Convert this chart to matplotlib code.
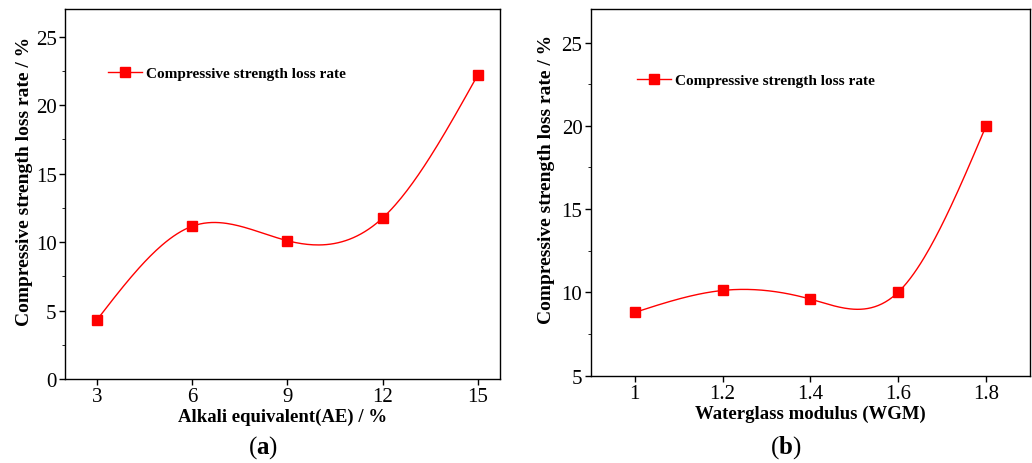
import numpy as np
import matplotlib
matplotlib.use("Agg")
import matplotlib.pyplot as plt
from matplotlib.ticker import MultipleLocator

ae = [3, 6, 9, 12, 15]
ae_loss = [4.3, 11.15, 10.1, 11.75, 22.2]
wgm = [1.0, 1.2, 1.4, 1.6, 1.8]
wgm_loss = [8.8, 10.12, 9.6, 10.02, 20.0]
label = "Compressive strength loss rate"

plt.rcParams["font.family"] = ["Liberation Serif", "DejaVu Serif"]
plt.rcParams["mathtext.fontset"] = "custom"
plt.rcParams["mathtext.bf"] = "Liberation Serif:bold"
plt.rcParams["mathtext.rm"] = "Liberation Serif"


def spline(x, y, n=200):
    # natural cubic spline through the measured points, for the smooth line
    x = np.asarray(x, float)
    y = np.asarray(y, float)
    k = len(x)
    h = np.diff(x)
    A = np.zeros((k, k))
    r = np.zeros(k)
    A[0, 0] = A[-1, -1] = 1
    for i in range(1, k - 1):
        A[i, i - 1] = h[i - 1]
        A[i, i] = 2 * (h[i - 1] + h[i])
        A[i, i + 1] = h[i]
        r[i] = 6 * ((y[i + 1] - y[i]) / h[i] - (y[i] - y[i - 1]) / h[i - 1])
    m = np.linalg.solve(A, r)
    xs = np.linspace(x[0], x[-1], n)
    idx = np.clip(np.searchsorted(x, xs) - 1, 0, k - 2)
    x0, x1 = x[idx], x[idx + 1]
    hh = x1 - x0
    t0, t1 = x1 - xs, xs - x0
    ys = (m[idx] * t0 ** 3 + m[idx + 1] * t1 ** 3) / (6 * hh) \
        + (y[idx] / hh - m[idx] * hh / 6) * t0 \
        + (y[idx + 1] / hh - m[idx + 1] * hh / 6) * t1
    return xs, ys


def draw(ax, x, y, xlabel, leg_pos, ylab_x):
    xs, ys = spline(x, y)
    ax.plot(xs, ys, color="red", lw=1)
    ax.plot(x, y, ls="none", marker="s", ms=6.5, color="red")
    ax.plot([], [], color="red", lw=1, marker="s", ms=6.5, label=label)
    ax.set_xticks(x)
    ax.yaxis.set_minor_locator(MultipleLocator(2.5))
    ax.tick_params(direction="out", labelsize=15, length=4, width=1, pad=2)
    ax.tick_params(which="minor", direction="out", length=2.5)
    ax.set_xlabel(xlabel, fontsize=13.5, fontweight="bold", labelpad=1)
    ax.set_ylabel(label + " / %", fontsize=14, fontweight="bold")
    ax.yaxis.set_label_coords(ylab_x, 0.537)
    ax.legend(loc="center left", bbox_to_anchor=leg_pos, frameon=False,
              prop={"weight": "bold", "size": 11}, handlelength=2.2,
              handletextpad=0.3, borderaxespad=0)
    for s in ax.spines.values():
        s.set_linewidth(1)


fig = plt.figure(figsize=(10.32, 4.64), dpi=100)
ax1 = fig.add_axes([0.063, 0.181, 0.4215, 0.797])
ax2 = fig.add_axes([0.5724, 0.188, 0.4257, 0.790])

draw(ax1, ae, ae_loss, "Alkali equivalent(AE) / %", (0.085, 0.827), -0.074)
ax1.set_xlim(2, 15.7)
ax1.set_ylim(0, 27)
ax1.yaxis.set_major_locator(MultipleLocator(5))

draw(ax2, wgm, wgm_loss, "Waterglass modulus (WGM)", (0.092, 0.806), -0.082)
ax2.set_xlim(0.9, 1.9)
ax2.set_ylim(5, 27)
ax2.set_xticklabels(["1", "1.2", "1.4", "1.6", "1.8"])
ax2.yaxis.set_major_locator(MultipleLocator(5))

fig.text(263 / 1032, 1 - 448 / 464, r"($\mathbf{a}$)", fontsize=18, ha="center", va="center")
fig.text(786 / 1032, 1 - 448 / 464, r"($\mathbf{b}$)", fontsize=18, ha="center", va="center")

fig.savefig("out.png", dpi=100)
